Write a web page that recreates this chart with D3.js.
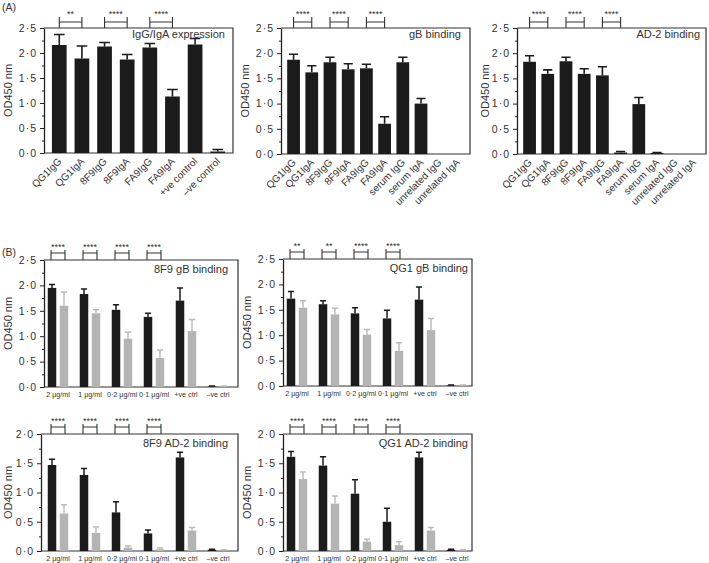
<!DOCTYPE html>
<html>
<head>
<meta charset="utf-8">
<script src="https://cdn.jsdelivr.net/npm/d3@7"></script>
<style>
  body { margin: 0; background: #fff; }
  svg { display: block; font-family: "Liberation Sans", Arial, sans-serif; }
</style>
</head>
<body>
<svg width="709" height="563"></svg>
<script>
"use strict"

// ---- panel A data
const abA1 = ["QG1IgG", "QG1IgA", "8F9IgG", "8F9IgA", "FA9IgG", "FA9IgA", "+ve control", "\u2013ve control"]
const exprMean = [2.16, 1.89, 2.13, 1.87, 2.11, 1.13, 2.17, 0.03]
const exprTop = [2.37, 2.14, 2.21, 1.97, 2.19, 1.27, 2.29, 0.07]

const abA2 = ["QG1IgG", "QG1IgA", "8F9IgG", "8F9IgA", "FA9IgG", "FA9IgA", "serum IgG", "serum IgA", "unrelated IgG", "unrelated IgA"]
const gbMean = [1.87, 1.62, 1.82, 1.68, 1.70, 0.60, 1.82, 1.00, 0, 0]
const gbTop = [1.98, 1.75, 1.92, 1.79, 1.78, 0.74, 1.92, 1.10, 0, 0]
const ad2Mean = [1.83, 1.59, 1.84, 1.59, 1.56, 0.03, 0.99, 0.02, 0, 0]
const ad2Top = [1.95, 1.67, 1.92, 1.69, 1.73, 0.05, 1.12, 0.03, 0, 0]

const sigExpr = ["**", "****", "****"]
const sigA = ["****", "****", "****"]

// ---- panel B data (black = IgG, grey = IgA)
const concs = ["2 \u00b5g/ml", "1 \u00b5g/ml", "0\u00b72 \u00b5g/ml", "0\u00b71 \u00b5g/ml", "+ve ctrl", "\u2013ve ctrl"]

const f8gbBlack = [1.95, 1.83, 1.52, 1.38, 1.70, 0.01]
const f8gbBlackTop = [2.02, 1.93, 1.62, 1.45, 1.95, 0.02]
const f8gbGrey = [1.60, 1.45, 0.95, 0.57, 1.10, 0.01]
const f8gbGreyTop = [1.87, 1.52, 1.08, 0.73, 1.33, 0.02]

const qggbBlack = [1.72, 1.61, 1.43, 1.33, 1.70, 0.01]
const qggbBlackTop = [1.86, 1.68, 1.54, 1.49, 1.95, 0.02]
const qggbGrey = [1.54, 1.41, 1.01, 0.69, 1.10, 0.01]
const qggbGreyTop = [1.68, 1.53, 1.11, 0.85, 1.33, 0.02]

const f8adBlack = [1.47, 1.30, 0.66, 0.30, 1.60, 0.02]
const f8adBlackTop = [1.57, 1.41, 0.84, 0.36, 1.69, 0.03]
const f8adGrey = [0.64, 0.31, 0.06, 0.03, 0.35, 0.01]
const f8adGreyTop = [0.79, 0.41, 0.09, 0.05, 0.40, 0.02]

const qgadBlack = [1.61, 1.46, 0.98, 0.50, 1.60, 0.02]
const qgadBlackTop = [1.70, 1.61, 1.22, 0.73, 1.69, 0.03]
const qgadGrey = [1.23, 0.81, 0.16, 0.10, 0.35, 0.01]
const qgadGreyTop = [1.35, 0.94, 0.20, 0.16, 0.40, 0.02]

const sigB = ["****", "****", "****", "****"]
const sigQgGb = ["**", "**", "****", "****"]

const BLACK = "#1b1b1b", GREY = "#b4b4b4", GREY_ERR = "#bcbcbc"

const svg = d3.select("svg")

let fmt = d => d3.format(".1f")(d).replace(".", "\u00b7")

function frameAndAxis(o) {
    const y = d3.scaleLinear().domain([0, o.max]).range([o.y0, o.y1])
    const g = svg.append("g")

    // minor ticks
    g.append("g")
        .attr("transform", `translate(${o.x0},0)`)
        .call(d3.axisLeft(y).tickValues(d3.range(0.25, o.max, 0.5)).tickSize(2).tickFormat(""))
        .call(a => a.select(".domain").remove())
        .selectAll("line").attr("stroke", "#222").attr("stroke-width", 1)

    const ax = g.append("g")
        .attr("transform", `translate(${o.x0},0)`)
        .call(d3.axisLeft(y).tickValues(d3.range(0, o.max + 0.01, 0.5)).tickSize(4).tickSizeOuter(0).tickPadding(3).tickFormat(fmt))
    ax.select(".domain").attr("stroke", "#222").attr("stroke-width", 1.3)
    ax.selectAll("line").attr("stroke", "#222").attr("stroke-width", 1)
    ax.selectAll("text")
        .attr("font-size", 10.5).attr("fill", "#333")
        .attr("font-family", "Liberation Sans, Arial, sans-serif")
        .style("letter-spacing", "1px")

    // box
    g.append("path")
        .attr("d", `M${o.x0},${o.y1}H${o.x1}V${o.y0}H${o.x0}`)
        .attr("fill", "none").attr("stroke", "#333").attr("stroke-width", 1.2)

    g.append("text")
        .attr("transform", `translate(${o.ylabX},${(o.y0 + o.y1) / 2}) rotate(-90)`)
        .attr("text-anchor", "middle").attr("font-size", 11).attr("fill", "#333")
        .text("OD450 nm")

    g.append("text")
        .attr("x", o.x1 - o.titleDx).attr("y", o.y1 + o.titleDy)
        .attr("text-anchor", "end").attr("font-size", 11).attr("fill", "#333")
        .text(o.title)
    return { g, y }
}

function bracket(g, xa, xb, yTop, label, h, hy) {
    g.append("path")
        .attr("d", `M${xa},${yTop - h}V${yTop}M${xb},${yTop - h}V${yTop}M${xa},${yTop - hy}H${xb}`)
        .attr("fill", "none").attr("stroke", "#333").attr("stroke-width", 1.1)
    g.append("text")
        .attr("x", (xa + xb) / 2).attr("y", yTop - h - 0.5)
        .attr("text-anchor", "middle").attr("font-size", 9).attr("fill", "#333")
        .text(label)
}

function errBar(g, cx, yv, yt, half, col, sw) {
    g.append("path")
        .attr("d", `M${cx},${yv}V${yt}M${cx - half},${yt}H${cx + half}`)
        .attr("fill", "none").attr("stroke", col).attr("stroke-width", sw)
}

function panelA(o) {
    const { g, y } = frameAndAxis(o)
    const x = d3.scaleBand().domain(o.cats).range([o.x0, o.x1]).paddingInner(o.pi).paddingOuter(o.po)
    const bw = x.bandwidth()

    o.cats.forEach((c, i) => {
        const v = o.mean[i]
        if (v > 0) {
            g.append("rect")
                .attr("x", x(c)).attr("y", y(v))
                .attr("width", bw).attr("height", y(0) - y(v))
                .attr("fill", BLACK)
            if (o.top[i] > v) errBar(g, x(c) + bw / 2, y(v), y(o.top[i]), bw * 0.36, BLACK, 1.6)
        }
        g.append("text")
            .attr("transform", `translate(${x(c) + bw / 2 + 3},${o.y0 + 9}) rotate(-45)`)
            .attr("text-anchor", "end").attr("font-size", 10).attr("fill", "#333")
            .text(c)
    })
    o.sig.forEach((s, k) => {
        const a = o.cats[2 * k], b = o.cats[2 * k + 1]
        bracket(g, x(a) + bw / 2, x(b) + bw / 2, o.y1, s, 11, 6)
    })
}

function panelB(o) {
    const { g, y } = frameAndAxis(o)
    const x = d3.scaleBand().domain(concs).range([o.gx0, o.gx0 + 192])
    const sub = d3.scaleBand().domain(["IgG", "IgA"]).range([0, x.bandwidth()]).paddingInner(0.29).paddingOuter(0.48)
    const sbw = sub.bandwidth()

    concs.forEach((c, i) => {
        const series = [
            { k: "IgG", v: o.black[i], t: o.blackTop[i], fill: BLACK, err: BLACK },
            { k: "IgA", v: o.grey[i], t: o.greyTop[i], fill: GREY, err: GREY_ERR }
        ]
        series.forEach(s => {
            const bx = x(c) + sub(s.k)
            g.append("rect")
                .attr("x", bx).attr("y", y(s.v))
                .attr("width", sbw).attr("height", y(0) - y(s.v))
                .attr("fill", s.fill)
            if (s.t > s.v) errBar(g, bx + sbw / 2, y(s.v), y(s.t), sbw * 0.36, s.err, 1.5)
        })
        g.append("text")
            .attr("x", x(c) + x.bandwidth() / 2).attr("y", o.y0 + 10)
            .attr("text-anchor", "middle").attr("font-size", 7.2).attr("fill", "#333")
            .text(c)
    })
    o.sig.forEach((s, k) => {
        const c = concs[k]
        bracket(g, x(c) + sub("IgG") + sbw / 2 - 1, x(c) + sub("IgA") + sbw / 2 + 1, o.y1, s, 10, 7)
    })
}

panelA({ x0: 44, x1: 233, y0: 153, y1: 28, max: 2.5, cats: abA1, mean: exprMean, top: exprTop,
    pi: 0.35, po: 0.35, sig: sigExpr, title: "IgG/IgA expression", titleDx: 8, titleDy: 10, ylabX: 12 })
panelA({ x0: 281, x1: 470, y0: 154, y1: 28, max: 2.5, cats: abA2, mean: gbMean, top: gbTop,
    pi: 0.3, po: 0.34, sig: sigA, title: "gB binding", titleDx: 9, titleDy: 10, ylabX: 249 })
panelA({ x0: 517, x1: 706, y0: 154, y1: 28, max: 2.5, cats: abA2, mean: ad2Mean, top: ad2Top,
    pi: 0.3, po: 0.34, sig: sigA, title: "AD-2 binding", titleDx: 6, titleDy: 10, ylabX: 489 })

panelB({ x0: 44, x1: 238, y0: 387, y1: 260, max: 2.5, gx0: 42,
    black: f8gbBlack, blackTop: f8gbBlackTop, grey: f8gbGrey, greyTop: f8gbGreyTop,
    sig: sigB, title: "8F9 gB binding", titleDx: 10, titleDy: 13, ylabX: 12 })
panelB({ x0: 283, x1: 472, y0: 386, y1: 259, max: 2.5, gx0: 281,
    black: qggbBlack, blackTop: qggbBlackTop, grey: qggbGrey, greyTop: qggbGreyTop,
    sig: sigQgGb, title: "QG1 gB binding", titleDx: 4, titleDy: 13, ylabX: 251 })
panelB({ x0: 41, x1: 238, y0: 551, y1: 434, max: 2.0, gx0: 42,
    black: f8adBlack, blackTop: f8adBlackTop, grey: f8adGrey, greyTop: f8adGreyTop,
    sig: sigB, title: "8F9 AD-2 binding", titleDx: 10, titleDy: 13, ylabX: 12 })
panelB({ x0: 283, x1: 472, y0: 551, y1: 434, max: 2.0, gx0: 281,
    black: qgadBlack, blackTop: qgadBlackTop, grey: qgadGrey, greyTop: qgadGreyTop,
    sig: sigB, title: "QG1 AD-2 binding", titleDx: 4, titleDy: 13, ylabX: 251 })

svg.append("text").attr("x", 2).attr("y", 11).attr("font-size", 10.5).attr("fill", "#333").text("(A)")
svg.append("text").attr("x", 2).attr("y", 256).attr("font-size", 10.5).attr("fill", "#333").text("(B)")
</script>
</body>
</html>
